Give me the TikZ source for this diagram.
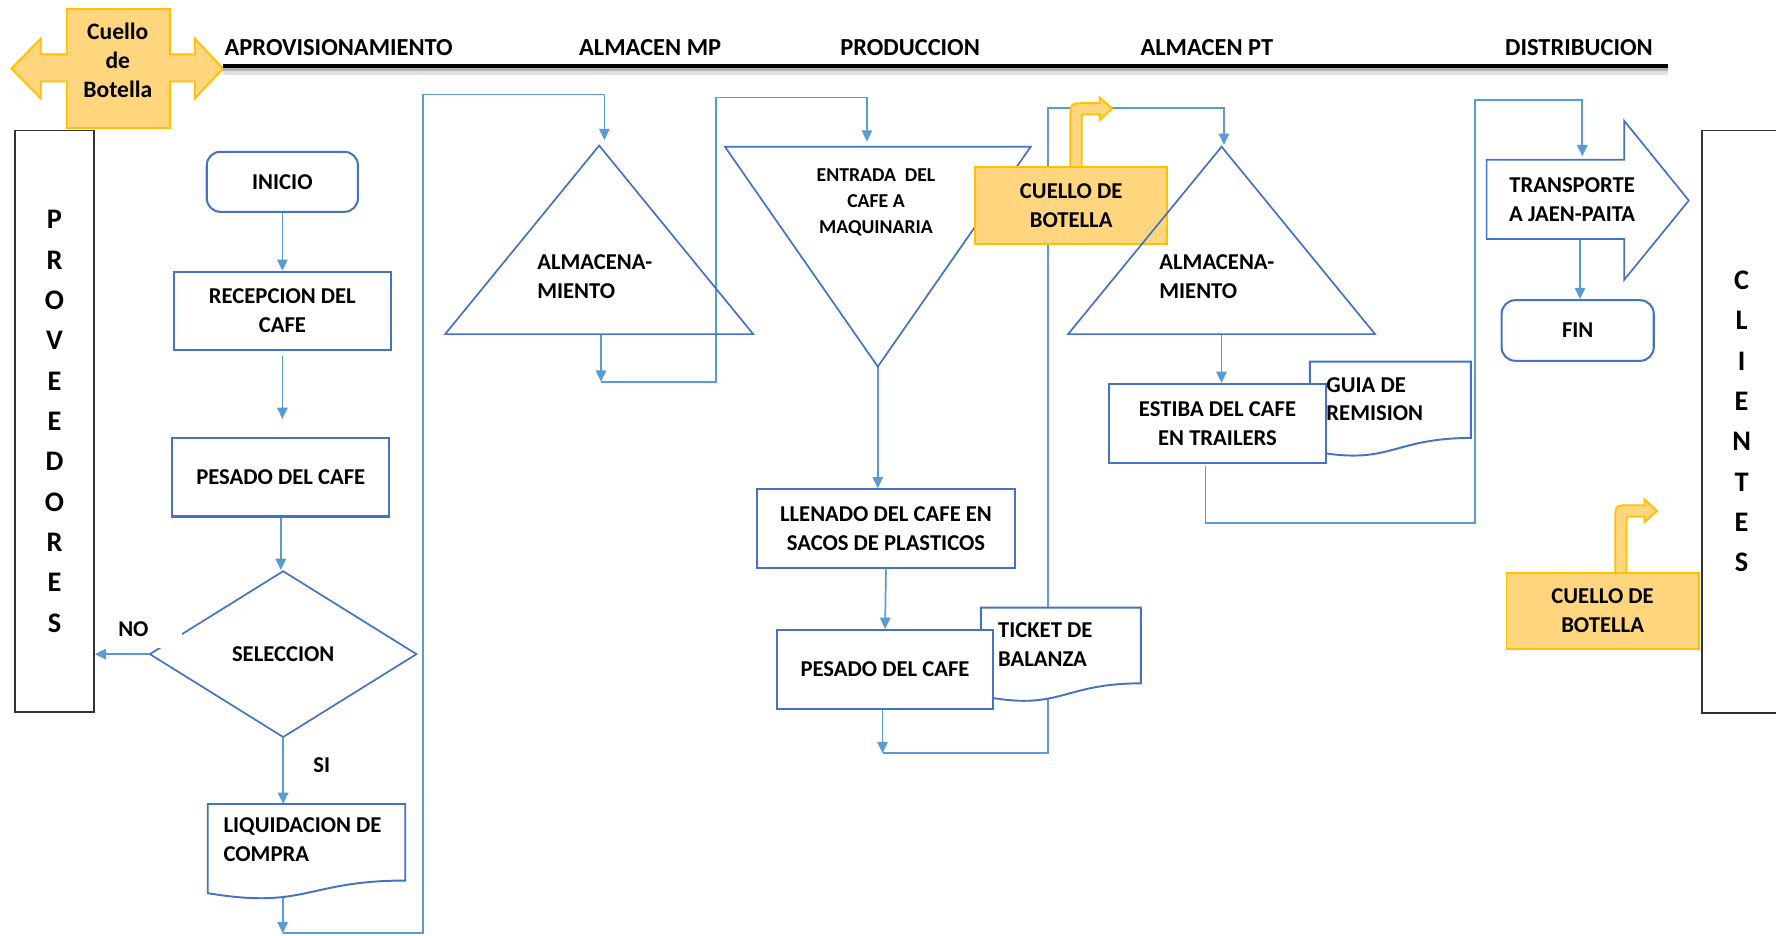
\documentclass[tikz,border=0pt]{standalone}
\usepackage{fontspec}
\setmainfont{Carlito}
\usetikzlibrary{shapes.geometric,arrows.meta,calc}

\pgfdeclarelayer{wires}
\pgfdeclarelayer{sheets}
\pgfsetlayers{wires,sheets,main}

\definecolor{wire}{RGB}{91,155,213}
\definecolor{boxline}{RGB}{68,114,196}
\definecolor{neckfill}{RGB}{255,214,125}
\definecolor{neckline}{RGB}{255,192,0}

\tikzset{
  txt/.style={font=\fontsize{10}{12.75}\selectfont\bfseries, align=center, inner sep=0pt},
  lefttxt/.style={txt, align=left, anchor=west},
  smalltxt/.style={font=\fontsize{8.7}{11.5}\selectfont\bfseries, align=center, inner sep=0pt},
  headtxt/.style={font=\fontsize{10.8}{13}\selectfont\bfseries, inner sep=0pt},
  letters/.style={font=\fontsize{12.5}{17.8}\selectfont\bfseries, align=center, inner sep=0pt},
  procbox/.style={txt, rectangle, draw=boxline, line width=0.9pt, fill=white},
  termbox/.style={procbox, rounded corners=6pt},
  shapeline/.style={draw=boxline, line width=0.75pt},
  sheetline/.style={draw=boxline, line width=0.85pt, fill=white},
  sheetframe/.style={rectangle, inner sep=0pt, anchor=north west},
  flow/.style={draw=wire, line width=0.75pt, -{Triangle[length=5pt,width=4.6pt]}},
  wireline/.style={draw=wire, line width=0.75pt},
  neck/.style={fill=neckfill, draw=neckline, line width=0.8pt},
  sidebox/.style={rectangle, draw=black!80, line width=0.6pt, inner sep=0pt},
}

% bent "bottleneck" arrow: #1 left x, #2 top y, #3 foot y
\newcommand\neckarrow[3]{%
  \filldraw[neck] (#1,#3) -- (#1,#2+14) .. controls (#1,#2) .. (#1+14,#2)
    -- (#1+26,#2) -- (#1+26,#2-5) -- (#1+37,#2+5) -- (#1+26,#2+15) -- (#1+26,#2+10)
    -- (#1+15,#2+10) .. controls (#1+10,#2+10) .. (#1+10,#2+15) -- (#1+10,#3) -- cycle;}

% document symbol with a wavy lower edge, drawn round a frame node
\newcommand\docsheet[1]{%
  \filldraw[sheetline] (#1.north west) -- (#1.north east)
    -- ($(#1.north east)!0.802!(#1.south east)$)
    .. controls ($(#1.north)!0.802!(#1.south)$) and ($(#1.north)!1.107!(#1.south)$)
    .. ($(#1.north west)!0.934!(#1.south west)$) -- cycle;}

\begin{document}
\begin{tikzpicture}[x=0.5pt,y=-0.5pt]
\useasboundingbox (0,0) rectangle (1568,826);

% ---------- header ----------
\filldraw[neck] (59,8) -- (150,8) -- (150,48) -- (172,48) -- (172,34) -- (197,60.5)
  -- (172,87) -- (172,72) -- (150,72) -- (150,113) -- (59,113) -- (59,72) -- (36,72)
  -- (36,87) -- (10,60.5) -- (36,34) -- (36,48) -- (59,48) -- cycle;
\node[txt, font=\fontsize{10.4}{12.75}\selectfont\bfseries] (neckhdr) at (104,53.5) {Cuello\\de\\Botella};

\coordinate (hl) at (197,58.5);
\coordinate (hr) at (1473,58.5);
\draw[black!12, line width=3pt] ([yshift=-2.2pt]hl) -- ([yshift=-2.2pt]hr);
\draw[black!30, line width=1.6pt] ([yshift=-1.2pt]hl) -- ([yshift=-1.2pt]hr);
\draw[black, line width=1.6pt] (hl) -- (hr);

\node[headtxt] (h1) at (299,42) {APROVISIONAMIENTO};
\node[headtxt] (h2) at (574,42) {ALMACEN MP};
\node[headtxt] (h3) at (803.5,42) {PRODUCCION};
\node[headtxt] (h4) at (1065.5,42) {ALMACEN PT};
\node[headtxt] (h5) at (1394,42) {DISTRIBUCION};

% ---------- side boxes ----------
\node[sidebox, letters, minimum width=34.9pt, minimum height=256.6pt] (prov) at (48.1,372)
  {P\\R\\O\\V\\E\\E\\D\\O\\R\\E\\S};
\node[sidebox, minimum width=49pt, minimum height=257.2pt, anchor=north west] (cli) at (1502,114.6) {};
\node[letters] (clitxt) at (1537.6,372) {C\\L\\I\\E\\N\\T\\E\\S};

% ---------- aprovisionamiento ----------
\node[termbox, minimum width=66.75pt, minimum height=26.5pt] (inicio) at (249.3,160.5) {INICIO};
\node[procbox, minimum width=95.7pt, minimum height=34.5pt] (recep) at (249.3,274.5) {RECEPCION DEL\\CAFE};
\node[procbox, minimum width=95.85pt, minimum height=34.8pt] (pes1) at (247.9,421.2) {PESADO DEL CAFE};
\node[diamond, txt, draw=boxline, line width=0.75pt, fill=white, minimum width=118pt, minimum height=73.5pt] (sel) at (250,577.5) {SELECCION};
\node[txt, fill=white, align=left, text width=28pt, minimum height=16.5pt, anchor=north west] (nolab) at (104,538.5) {NO};
\node[txt] (silab) at (284,675.4) {SI};
\node[sheetframe, minimum width=86.8pt, minimum height=41.75pt] (liq) at (183.4,709.8) {};
\node[lefttxt] (liqtxt) at (197,741.5) {LIQUIDACION DE\\COMPRA};

% ---------- almacen MP ----------
\coordinate (t1a) at (529,128.5);
\coordinate (t1l) at (393,295);
\coordinate (t1r) at (665,295);
\draw[shapeline] (t1a) -- (t1r) -- (t1l) -- cycle;
\node[lefttxt] (t1txt) at (474,244.3) {ALMACENA-\\MIENTO};

% ---------- produccion ----------
\coordinate (e1) at (640,129.5);
\coordinate (e2) at (910,129.5);
\coordinate (ea) at (775,323.7);
\draw[shapeline] (e1) -- (e2) -- (ea) -- cycle;
\node[smalltxt] (etxt) at (773.4,179) {ENTRADA~ DEL\\CAFE A\\MAQUINARIA};
\node[procbox, minimum width=114.2pt, minimum height=34.85pt] (llen) at (782.2,466.9) {LLENADO DEL CAFE EN\\SACOS DE PLASTICOS};
\node[procbox, minimum width=95.65pt, minimum height=34.7pt] (pes2) at (781.4,590.9) {PESADO DEL CAFE};
\node[sheetframe, minimum width=70.25pt, minimum height=41.25pt] (tick) at (866,536.5) {};
\node[lefttxt] (ticktxt) at (880.8,569.3) {TICKET DE\\BALANZA};

\neckarrow{945}{91}{148}
\node[txt, neck, minimum width=84.9pt, minimum height=33.9pt] (neck1) at (945.7,181.6) {CUELLO DE\\BOTELLA};

% ---------- almacen PT ----------
\coordinate (t2a) at (1078.5,129.5);
\coordinate (t2l) at (943,295);
\coordinate (t2r) at (1214,295);
\coordinate (t2b) at (1078.5,295);
\draw[shapeline] (t2a) -- (t2r) -- (t2l) -- cycle;
\node[lefttxt] (t2txt) at (1023.2,244.3) {ALMACENA-\\MIENTO};
\node[procbox, minimum width=95.85pt, minimum height=34.9pt] (est) at (1074.9,373.9) {ESTIBA DEL CAFE\\EN TRAILERS};
\node[sheetframe, minimum width=70.65pt, minimum height=41.6pt] (guia) at (1156.5,319.3) {};
\node[lefttxt] (guiatxt) at (1170.7,352.4) {GUIA DE\\REMISION};

% ---------- distribucion ----------
\coordinate (trtop) at (1397,141);
\coordinate (trbot) at (1395,211);
\filldraw[shapeline, fill=white] (1312.5,141) -- (1434,141) -- (1434,106.7) -- (1491,177)
  -- (1434,247) -- (1434,211) -- (1312.5,211) -- cycle;
\node[txt] (trtxt) at (1388,176.5) {TRANSPORTE\\A JAEN-PAITA};
\node[termbox, minimum width=67.15pt, minimum height=26.75pt] (fin) at (1392.9,291.8) {FIN};

\neckarrow{1426}{446}{506}
\node[txt, neck, minimum width=84.85pt, minimum height=33.5pt] (neck2) at (1414.9,539.5) {CUELLO DE\\BOTELLA};

% ---------- document symbols ----------
\begin{pgfonlayer}{sheets}
  \docsheet{liq}
  \docsheet{tick}
  \docsheet{guia}
\end{pgfonlayer}

% ---------- connectors ----------
\begin{pgfonlayer}{wires}
  \fill[white] (0,0) rectangle (1568,826);

  \draw[flow] (inicio.south) -- (recep.north);
  \draw[flow, shorten <=2.2pt, shorten >=7.8pt] (recep.south) -- (recep.south |- pes1.north);
  \draw[flow] (pes1.south) -- (pes1.south |- sel.north);
  \draw[flow] (sel.west) -- (sel.west -| prov.east);
  \draw[flow] (sel.south) -- (sel.south |- liq.north);

  \coordinate (liqout) at (249.6,791);
  \coordinate (loop1) at (249.6,824);
  \coordinate (up1) at (373.7,824);
  \coordinate (top1) at (373.7,83.5);
  \coordinate (drop1) at (533.6,83.5);
  \draw[flow] (liqout) -- (loop1);
  \draw[flow, shorten >=2.4pt] (loop1) -- (up1) -- (top1) -- (drop1) -- (drop1 |- t1a);

  \coordinate (t1out) at (530.6,295);
  \coordinate (t1low) at (530.6,337);
  \coordinate (up2) at (632,337);
  \coordinate (top2) at (632,86);
  \coordinate (drop2) at (765.4,86);
  \draw[flow] (t1out) -- (t1low);
  \draw[flow, shorten >=2.2pt] (t1low) -- (up2) -- (top2) -- (drop2) -- (drop2 |- e1);

  \draw[flow] (ea) -- (ea |- llen.north);
  \draw[flow] (llen.south) -- (pes2.north);

  \coordinate (p2low) at (779.2,665);
  \coordinate (up3) at (925,665);
  \coordinate (top3) at (925,95.6);
  \coordinate (drop3) at (1080.6,95.6);
  \draw[flow] (pes2.south -| p2low) -- (p2low);
  \draw[flow, shorten >=0.8pt] (p2low) -- (up3) -- (top3) -- (drop3) -- (drop3 |- t2a);

  \draw[flow] (t2b) -- (t2b |- est.north);

  \coordinate (estout) at (1064.4,411);
  \coordinate (low4) at (1064.4,462);
  \coordinate (up4) at (1302,462);
  \coordinate (top4) at (1302,88.5);
  \coordinate (drop4) at (1397,88.5);
  \draw[flow, shorten >=1.5pt] (estout) -- (low4) -- (up4) -- (top4) -- (drop4) -- (trtop);

  \draw[flow] (trbot) -- (trbot |- fin.north);
\end{pgfonlayer}
\end{tikzpicture}
\end{document}
